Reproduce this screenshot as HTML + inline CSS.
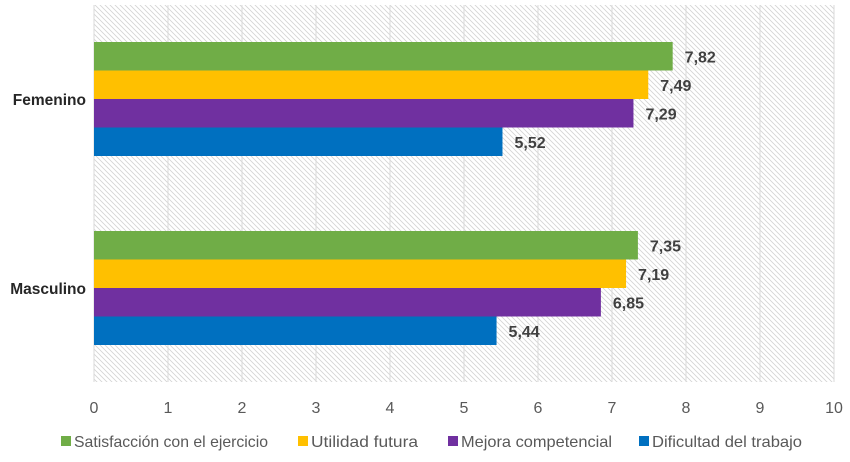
<!DOCTYPE html>
<html><head><meta charset="utf-8"><style>
body{margin:0;background:#fff;}
svg{font-family:"Liberation Sans",sans-serif;}
</style></head><body>
<svg id="chart" width="850" height="457" viewBox="0 0 850 457">
<defs>
<pattern id="hatch" width="5" height="5" patternUnits="userSpaceOnUse">
<rect width="5" height="5" fill="#fff"/>
<path d="M-1,-1 L6,6 M-1,4 L1,6 M4,-1 L6,1" stroke="#d4d4d4" stroke-width="0.8"/>
</pattern>
</defs>
<rect x="94" y="5" width="740" height="377" fill="url(#hatch)"/>
<g id="grid"></g>
<g id="bars"></g>
<g id="labels"></g>
<g id="legend"></g>
</svg>
<script>
const categories = ["Femenino","Masculino"];
const seriesNames = ["Satisfacción con el ejercicio","Utilidad futura","Mejora competencial","Dificultad del trabajo"];
const colors = ["#70ad47","#ffc000","#7030a0","#0070c0"];
const femenino = [7.82,7.49,7.29,5.52];
const masculino = [7.35,7.19,6.85,5.44];
const ticks = [0,1,2,3,4,5,6,7,8,9,10];
const values = [femenino, masculino];

const NS="http://www.w3.org/2000/svg";
const x0=94,x1=834,yTop=5,yBot=382;
const xs=v=>x0+(v/10)*(x1-x0);
const groupTop=[42,231];
const barH=28.5;
function mk(tag,attrs,parent){const e=document.createElementNS(NS,tag);for(const k in attrs)e.setAttribute(k,attrs[k]);parent.appendChild(e);return e;}
const grid=document.getElementById('grid'),bars=document.getElementById('bars'),labels=document.getElementById('labels'),legend=document.getElementById('legend');
ticks.forEach(t=>{
  const l=mk('line',{x1:xs(t),x2:xs(t),y1:yTop,y2:yBot,stroke:'#d9d9d9','stroke-width':1},grid);
  
  
  const tx=mk('text',{x:xs(t),y:413,'text-anchor':'middle','font-size':16,fill:'#595959'},labels);
  tx.textContent=t;
  
  
});
categories.forEach((c,ci)=>{
  const ct=mk('text',{x:86,y:groupTop[ci]+2*barH+6,'text-anchor':'end','font-size':15.5,'font-weight':'bold',fill:'#262626'},labels);
  ct.textContent=c;
  
  
  values[ci].forEach((v,si)=>{
    const y=groupTop[ci]+si*barH;
    const r=mk('rect',{x:x0,y:y,width:xs(v)-x0,height:barH,fill:colors[si]},bars);
    
    
    const t=mk('text',{x:xs(v)+12,y:y+barH/2+6,'font-size':16,'font-weight':'bold',fill:'#404040'},labels);
    t.textContent=v.toFixed(2).replace('.',',');
    
    
  });
});
const legX=[61,298,448,639];
const legW=[194,107,151,150];
seriesNames.forEach((n,i)=>{
  const r=mk('rect',{x:legX[i],y:436,width:10,height:10,fill:colors[i]},legend);
  
  
  const t=mk('text',{x:legX[i]+13,y:447,'font-size':16,fill:'#595959',textLength:legW[i],lengthAdjust:'spacingAndGlyphs'},legend);
  t.textContent=n;
  
  
});
</script>
</body></html>
